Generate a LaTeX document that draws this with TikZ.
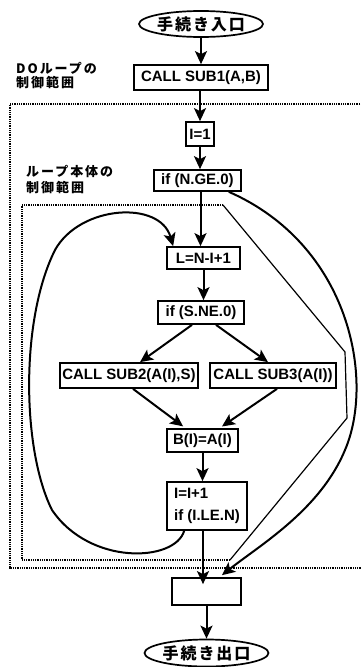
\documentclass[tikz,border=0pt]{standalone}
\usepackage{fontspec}
\setmainfont{Liberation Sans}
\newfontfamily\jpfont[LetterSpace=12]{Noto Sans CJK JP}
\newfontfamily\jplbl[LetterSpace=15]{Noto Sans CJK JP}
\usetikzlibrary{shapes.geometric,arrows.meta,calc}
\begin{document}
\begin{tikzpicture}[x=1pt,y=-1pt,
  box/.style={draw, line width=1.7pt, inner sep=0pt, font=\bfseries\fontsize{15}{15}\selectfont},
  term/.style={draw, ellipse, line width=1.7pt, inner sep=0pt, font=\jpfont\bfseries\fontsize{16}{16}\selectfont},
  lbl/.style={anchor=west, inner sep=0pt, font=\jplbl\bfseries\fontsize{13}{13}\selectfont},
  arr/.style={line width=2pt, -{Stealth[length=13pt,width=12pt,inset=3pt]}},
  thin/.style={line width=1.2pt},
  dots/.style={line width=1.6pt, dash pattern=on 1pt off 0.8pt}]
\useasboundingbox (0,0) rectangle (360,667);

% ranges
\draw[dots] (362,104) -- (10,104) -- (10,568) -- (362,568);
\draw[dots] (223,205) -- (22,205) -- (22,560) -- (230,560);
\draw[thin] (223,205) -- (345,352) -- (347,418) -- (230,560);

% labels
\node[lbl] (l1) at (16,68) {DOループの};
\node[lbl] (l2) at (16,83) {制御範囲};
\node[lbl] (l3) at (26,171) {ループ本体の};
\node[lbl] (l4) at (26,188) {制御範囲};

% nodes
\node[term, minimum width=108pt, minimum height=26pt] (entry) at (201,24) {手続き入口};
\node[box, minimum width=134pt, minimum height=25pt] (sub1) at (201,77.5) {CALL SUB1(A,B)};
\node[box, minimum width=28pt, minimum height=24pt] (i1) at (200,134) {I=1};
\node[box, minimum width=87pt, minimum height=21pt] (nge) at (197.5,180.5) {if (N.GE.0)};
\node[box, minimum width=73pt, minimum height=22pt] (L) at (203.5,258) {L=N-I+1};
\node[box, minimum width=86pt, minimum height=23pt] (sne) at (201,312.5) {if (S.NE.0)};
\node[box, minimum width=138pt, minimum height=25pt] (sub2) at (129,375.5) {CALL SUB2(A(I),S)};
\node[box, minimum width=126pt, minimum height=25pt] (sub3) at (273,375.5) {CALL SUB3(A(I))};
\node[box, minimum width=71pt, minimum height=23pt] (bb) at (202.5,440.5) {B(I)=A(I)};
\node[box, minimum width=80pt, minimum height=48pt, align=left] (inc) at (207,506) {I=I+1\\[7pt]if (I.LE.N)};
\node[box, minimum width=69pt, minimum height=27pt] (fin) at (206.5,591.5) {};
\node[term, minimum width=107pt, minimum height=27pt] (exit) at (206.5,653) {手続き出口};

% connectors
\draw[arr] (entry.south) -- (entry.south |- sub1.north);
\draw[arr] (sub1.south -| i1.north) -- (i1.north);
\draw[arr] (i1.south) -- (i1.south |- nge.north);
\draw[arr] ([xshift=-3pt]L.north |- nge.south) -- ([xshift=-3pt]L.north);
\draw[arr] (L.south) -- (L.south |- sne.north);
\draw[arr] ([xshift=-9pt]sne.south) -- ([xshift=11pt]sub2.north);
\draw[arr] ([xshift=15pt]sne.south) -- ([xshift=-5pt]sub3.north);
\draw[arr, shorten >=3pt] ([xshift=4pt]sub2.south) -- ([xshift=-17pt]bb.north);
\draw[arr, shorten >=3pt] ([xshift=4pt]sub3.south) -- ([xshift=17pt]bb.north);
\draw[arr] (bb.south) -- (bb.south |- inc.north);
\draw[arr] ([xshift=-4pt]inc.south) -- ([xshift=-4pt,yshift=-7pt]inc.south |- fin.north);
\draw[arr] (fin.south) -- (exit.north);

% loop back
\draw[arr] ([xshift=18pt]inc.south west) .. controls (175,562) and (90,566) .. (52,510)
  .. controls (22,450) and (20,320) .. (55,250)
  .. controls (80,205) and (160,200) .. ([xshift=7pt]L.north west);

% skip curve
\draw[arr] ([xshift=-13pt]nge.south east) .. controls (350,245) and (375,380) .. (345,450)
  .. controls (320,510) and (260,545) .. ([xshift=15.5pt,yshift=2pt]fin.north);
\end{tikzpicture}
\end{document}
